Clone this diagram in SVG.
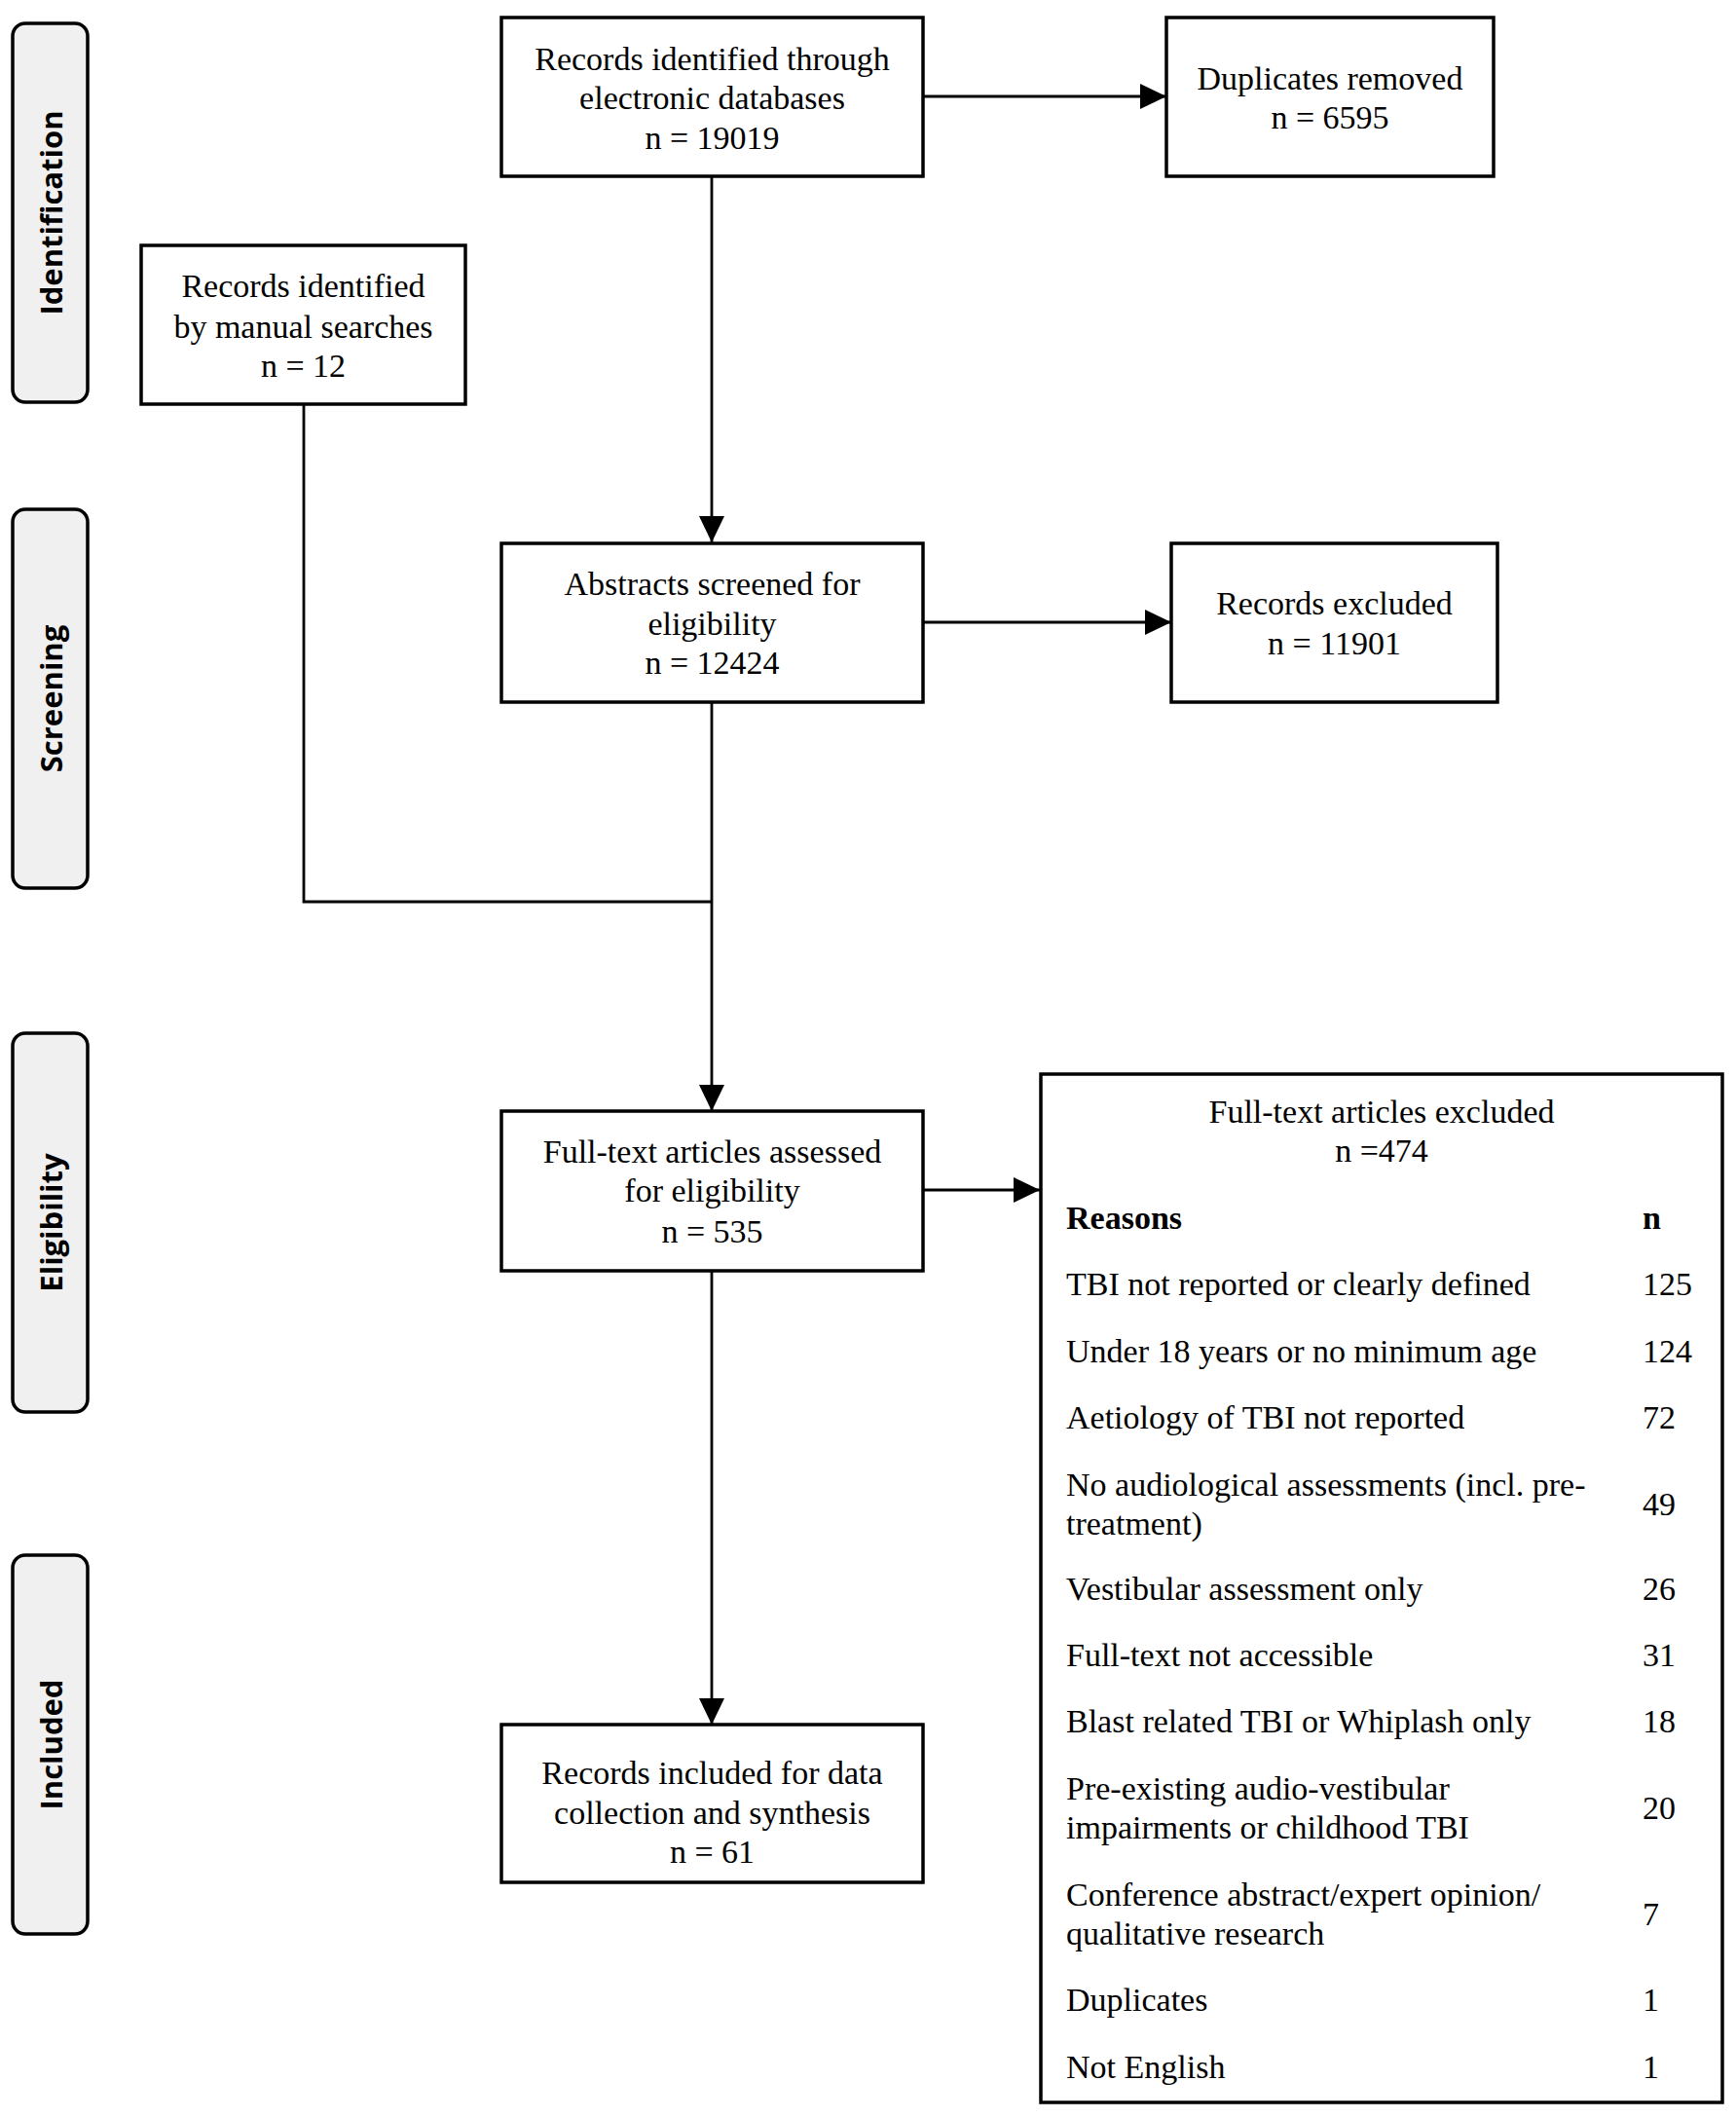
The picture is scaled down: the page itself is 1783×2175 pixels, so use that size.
<svg xmlns="http://www.w3.org/2000/svg" width="1783" height="2175" viewBox="0 0 1783 2175">
<style>
.box{fill:#fff;stroke:#000;stroke-width:3.5}
.tab{fill:#f0f0f0;stroke:#000;stroke-width:3.5}
.t{font-family:"Liberation Serif","Times New Roman",serif;font-size:34px;fill:#000}
.c{text-anchor:middle}
.b{font-weight:bold}
.tt{font-family:"Open Sans","Noto Sans",sans-serif;font-size:31px;font-weight:bold;text-anchor:middle;fill:#000}
.ln{fill:none;stroke:#000;stroke-width:2.8}
</style>
<defs>
<marker id="ah" markerUnits="userSpaceOnUse" markerWidth="27" markerHeight="26" refX="27" refY="13" orient="auto">
<path d="M0,0 L27,13 L0,26 z" fill="#000"/>
</marker>
</defs>
<rect width="1783" height="2175" fill="#fff"/>

<g id="tab-identification">
<rect class="tab" x="13" y="24" width="77" height="389" rx="13"/>
<text class="tt" transform="translate(64,218.5) rotate(-90)">Identification</text>
</g>
<g id="tab-screening">
<rect class="tab" x="13" y="523" width="77" height="389" rx="13"/>
<text class="tt" transform="translate(64,717.5) rotate(-90)">Screening</text>
</g>
<g id="tab-eligibility">
<rect class="tab" x="13" y="1061" width="77" height="389" rx="13"/>
<text class="tt" transform="translate(64,1255.5) rotate(-90)">Eligibility</text>
</g>
<g id="tab-included">
<rect class="tab" x="13" y="1597" width="77" height="389" rx="13"/>
<text class="tt" transform="translate(64,1791.5) rotate(-90)">Included</text>
</g>

<g id="connectors">
<line class="ln" x1="948" y1="99" x2="1198" y2="99" marker-end="url(#ah)"/>
<line class="ln" x1="731" y1="181" x2="731" y2="557" marker-end="url(#ah)"/>
<line class="ln" x1="948" y1="639" x2="1203" y2="639" marker-end="url(#ah)"/>
<polyline class="ln" points="312,415 312,926 731,926"/>
<line class="ln" x1="731" y1="721" x2="731" y2="1141" marker-end="url(#ah)"/>
<line class="ln" x1="948" y1="1222" x2="1068" y2="1222" marker-end="url(#ah)"/>
<line class="ln" x1="731" y1="1305" x2="731" y2="1771" marker-end="url(#ah)"/>
</g>

<g id="records-databases">
<rect class="box" x="515" y="18" width="433" height="163"/>
<text class="t c" x="731.5" y="72">Records identified through</text>
<text class="t c" x="731.5" y="112">electronic databases</text>
<text class="t c" x="731.5" y="153">n = 19019</text>
</g>
<g id="duplicates-removed">
<rect class="box" x="1198" y="18" width="336" height="163"/>
<text class="t c" x="1366" y="92">Duplicates removed</text>
<text class="t c" x="1366" y="132">n = 6595</text>
</g>
<g id="records-manual">
<rect class="box" x="145" y="252" width="333" height="163"/>
<text class="t c" x="311.5" y="305">Records identified</text>
<text class="t c" x="311.5" y="347">by manual searches</text>
<text class="t c" x="311.5" y="387">n = 12</text>
</g>
<g id="abstracts-screened">
<rect class="box" x="515" y="558" width="433" height="163"/>
<text class="t c" x="731.5" y="611">Abstracts screened for</text>
<text class="t c" x="731.5" y="652">eligibility</text>
<text class="t c" x="731.5" y="692">n = 12424</text>
</g>
<g id="records-excluded">
<rect class="box" x="1203" y="558" width="335" height="163"/>
<text class="t c" x="1370.5" y="631">Records excluded</text>
<text class="t c" x="1370.5" y="672">n = 11901</text>
</g>
<g id="fulltext-assessed">
<rect class="box" x="515" y="1141" width="433" height="164"/>
<text class="t c" x="731.5" y="1194">Full-text articles assessed</text>
<text class="t c" x="731.5" y="1234">for eligibility</text>
<text class="t c" x="731.5" y="1276">n = 535</text>
</g>
<g id="records-included">
<rect class="box" x="515" y="1771" width="433" height="162"/>
<text class="t c" x="731.5" y="1832">Records included for data</text>
<text class="t c" x="731.5" y="1873">collection and synthesis</text>
<text class="t c" x="731.5" y="1913">n = 61</text>
</g>
<g id="fulltext-excluded">
<rect class="box" x="1069" y="1103" width="700" height="1056"/>
<text class="t c" x="1419" y="1153">Full-text articles excluded</text>
<text class="t c" x="1419" y="1193">n =474</text>
<text class="t b" x="1095" y="1262">Reasons</text>
<text class="t b" x="1687" y="1262">n</text>
<text class="t" x="1095" y="1330">TBI not reported or clearly defined</text>
<text class="t" x="1687" y="1330">125</text>
<text class="t" x="1095" y="1399">Under 18 years or no minimum age</text>
<text class="t" x="1687" y="1399">124</text>
<text class="t" x="1095" y="1467">Aetiology of TBI not reported</text>
<text class="t" x="1687" y="1467">72</text>
<text class="t" x="1095" y="1536">No audiological assessments (incl. pre-</text>
<text class="t" x="1095" y="1576">treatment)</text>
<text class="t" x="1687" y="1556">49</text>
<text class="t" x="1095" y="1643">Vestibular assessment only</text>
<text class="t" x="1687" y="1643">26</text>
<text class="t" x="1095" y="1711">Full-text not accessible</text>
<text class="t" x="1687" y="1711">31</text>
<text class="t" x="1095" y="1779">Blast related TBI or Whiplash only</text>
<text class="t" x="1687" y="1779">18</text>
<text class="t" x="1095" y="1848">Pre-existing audio-vestibular</text>
<text class="t" x="1095" y="1888">impairments or childhood TBI</text>
<text class="t" x="1687" y="1868">20</text>
<text class="t" x="1095" y="1957">Conference abstract/expert opinion/</text>
<text class="t" x="1095" y="1997">qualitative research</text>
<text class="t" x="1687" y="1977">7</text>
<text class="t" x="1095" y="2065">Duplicates</text>
<text class="t" x="1687" y="2065">1</text>
<text class="t" x="1095" y="2134">Not English</text>
<text class="t" x="1687" y="2134">1</text>
</g>
</svg>
